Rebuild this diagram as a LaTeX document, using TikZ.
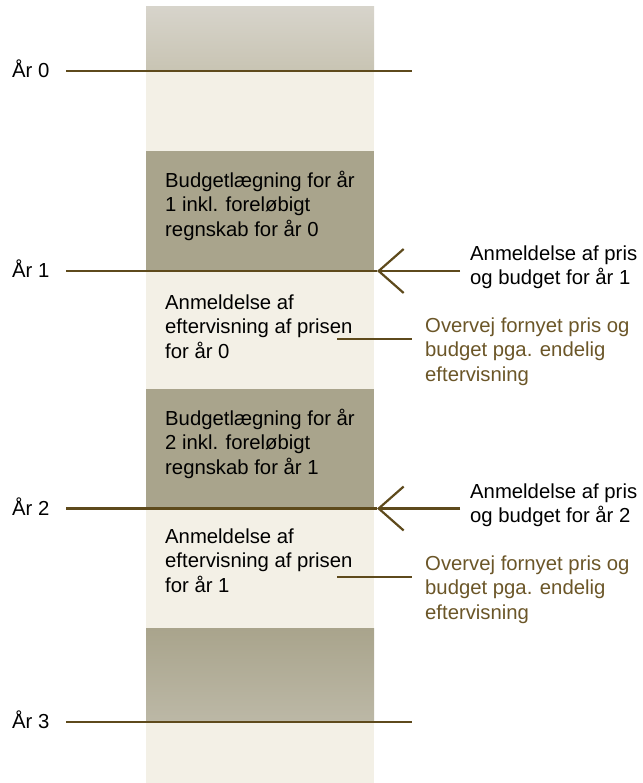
\documentclass[tikz,border=0pt]{standalone}
\usepackage{fontspec}
\setmainfont{Liberation Sans}
\usetikzlibrary{arrows.meta}
\definecolor{topA}{HTML}{D7D4CB}
\definecolor{topB}{HTML}{C8C4B3}
\definecolor{lightfill}{HTML}{F3F0E6}
\definecolor{darkfill}{HTML}{A9A48C}
\definecolor{botB}{HTML}{BCB8A6}
\definecolor{brownline}{HTML}{5E4A1C}
\definecolor{browntext}{HTML}{6B5628}
\tikzset{
  txt/.style={anchor=base west, inner sep=0pt, align=left,
    font=\fontsize{20.3}{24.5}\selectfont},
  btxt/.style={txt, text=browntext},
  yearline/.style={draw=brownline, line width=2.2pt},
  arrowline/.style={draw=brownline, line width=2.2pt,
    -{Straight Barb[length=25pt,width=44pt,line width=2.2pt]}},
}
\begin{document}
\begin{tikzpicture}[x=1pt,y=1pt]
\useasboundingbox (0,0) rectangle (642,-783);
% column
\fill[lightfill] (146,-7) rectangle (374,-783);
\shade[top color=topA, bottom color=topB] (146,-7) rectangle (374,-71);
\fill[darkfill] (146,-151) rectangle (374,-271);
\fill[darkfill] (146,-388.5) rectangle (374,-508.5);
\shade[top color=darkfill, bottom color=botB] (146,-628) rectangle (374,-722);

% coordinates
\coordinate (l0s) at (66,-71);   \coordinate (l0e) at (412,-71);
\coordinate (l1s) at (66,-271);  \coordinate (tip1) at (377,-271); \coordinate (a1s) at (460,-271);
\coordinate (l2s) at (66,-508.5);\coordinate (tip2) at (377,-508.5); \coordinate (a2s) at (460,-508.5);
\coordinate (l3s) at (66,-722);  \coordinate (l3e) at (412,-722);
\coordinate (s1s) at (337,-339); \coordinate (s1e) at (412,-339);
\coordinate (s2s) at (337,-577); \coordinate (s2e) at (412,-577);

% year labels
\node[txt] (y0) at (12,-77.5) {År 0};
\node[txt] (y1) at (12,-277.5) {År 1};
\node[txt] (y2) at (12,-515) {År 2};
\node[txt] (y3) at (12,-728.5) {År 3};

% lines
\draw[yearline] (l0s) -- (l0e);
\draw[yearline] (l1s) -- (tip1);
\draw[yearline] (l2s) -- (tip2);
\draw[yearline] (l3s) -- (l3e);
\draw[arrowline] (a1s) -- (tip1);
\draw[arrowline] (a2s) -- (tip2);
\draw[yearline] (s1s) -- (s1e);
\draw[yearline] (s2s) -- (s2e);

% box texts (anchor = baseline of last line)
\node[txt] (b1) at (165,-236.5) {Budgetlægning for år\\1 inkl. foreløbigt\\regnskab for år 0};
\node[txt] (e1) at (165,-358) {Anmeldelse af\\eftervisning af prisen\\for år 0};
\node[txt] (b2) at (165,-474) {Budgetlægning for år\\2 inkl. foreløbigt\\regnskab for år 1};
\node[txt] (e2) at (165,-592) {Anmeldelse af\\eftervisning af prisen\\for år 1};

% right texts
\node[txt] (r1) at (470,-284.5) {Anmeldelse af pris\\og budget for år 1};
\node[txt] (r2) at (470,-522.5) {Anmeldelse af pris\\og budget for år 2};
\node[btxt] (o1) at (425,-381) {Overvej fornyet pris og\\budget pga. endelig\\eftervisning};
\node[btxt] (o2) at (425,-619) {Overvej fornyet pris og\\budget pga. endelig\\eftervisning};
\end{tikzpicture}
\end{document}
